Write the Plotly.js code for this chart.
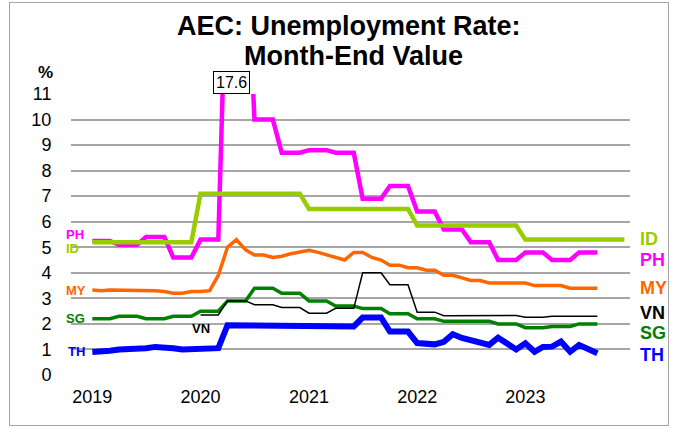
<!DOCTYPE html>
<html>
<head>
<meta charset="utf-8">
<script src="https://cdn.plot.ly/plotly-3.0.1.min.js"></script>
<style>
  html, body { margin: 0; padding: 0; background: #fff; }
  #wrap { position: relative; width: 674px; height: 428px; }
  #chart { position: absolute; left: 0; top: 0; width: 674px; height: 428px; }
  #frame { position: absolute; left: 9px; top: 2px; width: 658px; height: 422px; border: 1px solid #a6a6a6; pointer-events: none; }
</style>
</head>
<body>
<div id="wrap"><div id="chart"></div><div id="frame"></div></div>
<script>
// Month-end dates (Jan 2019 .. Dec 2023)
var months = [
 '2019-01-01','2019-02-01','2019-03-01','2019-04-01','2019-05-01','2019-06-01','2019-07-01','2019-08-01','2019-09-01','2019-10-01','2019-11-01','2019-12-01',
 '2020-01-01','2020-02-01','2020-03-01','2020-04-01','2020-05-01','2020-06-01','2020-07-01','2020-08-01','2020-09-01','2020-10-01','2020-11-01','2020-12-01',
 '2021-01-01','2021-02-01','2021-03-01','2021-04-01','2021-05-01','2021-06-01','2021-07-01','2021-08-01','2021-09-01','2021-10-01','2021-11-01','2021-12-01',
 '2022-01-01','2022-02-01','2022-03-01','2022-04-01','2022-05-01','2022-06-01','2022-07-01','2022-08-01','2022-09-01','2022-10-01','2022-11-01','2022-12-01',
 '2023-01-01','2023-02-01','2023-03-01','2023-04-01','2023-05-01','2023-06-01','2023-07-01','2023-08-01','2023-09-01','2023-10-01','2023-11-01','2023-12-01'
];
var vnMonths = months.slice(12, 57);

var PH = [5.25,5.25,5.25, 5.1,5.1,5.1, 5.4,5.4,5.4, 4.6,4.6,4.6,
          5.3,5.3,5.3, 17.6,17.6,17.6, 10.0,10.0,10.0, 8.7,8.7,8.7,
          8.8,8.8,8.8, 8.7,8.7,8.7, 6.9,6.9,6.9, 7.4,7.4,7.4,
          6.4,6.4,6.4, 5.7,5.7,5.7, 5.2,5.2,5.2, 4.5,4.5,4.5,
          4.8,4.8,4.8, 4.5,4.5,4.5, 4.8,4.8,4.8];
var ID = [5.2,5.2,5.2,5.2,5.2,5.2,5.2,5.2,5.2,5.2,5.2,5.2,
          7.1,7.1,7.1,7.1,7.1,7.1,7.1,7.1,7.1,7.1,7.1,7.1,
          6.5,6.5,6.5,6.5,6.5,6.5,6.5,6.5,6.5,6.5,6.5,6.5,
          5.85,5.85,5.85,5.85,5.85,5.85,5.85,5.85,5.85,5.85,5.85,5.85,
          5.3,5.3,5.3,5.3,5.3,5.3,5.3,5.3,5.3,5.3,5.3,5.3];
var MY = [3.33,3.3,3.33,3.33,3.3,3.3,3.32,3.3,3.27,3.2,3.2,3.27,
          3.27,3.3,3.9,5.0,5.3,4.9,4.7,4.7,4.6,4.65,4.75,4.8,
          4.88,4.8,4.7,4.6,4.5,4.8,4.8,4.6,4.5,4.3,4.3,4.2,
          4.2,4.1,4.1,3.9,3.9,3.8,3.7,3.7,3.6,3.6,3.6,3.6,
          3.6,3.5,3.5,3.5,3.5,3.4,3.4,3.4,3.4];
var SG = [2.2,2.2,2.2, 2.3,2.3,2.3, 2.2,2.2,2.2, 2.3,2.3,2.3,
          2.5,2.5,2.5, 2.9,2.9,2.9, 3.4,3.4,3.4, 3.2,3.2,3.2,
          2.9,2.9,2.9, 2.7,2.7,2.7, 2.6,2.6,2.6, 2.4,2.4,2.4,
          2.2,2.2,2.2, 2.1,2.1,2.1, 2.1,2.1,2.1, 2.0,2.0,2.0,
          1.85,1.85,1.85, 1.9,1.9,1.9, 2.0,2.0,2.0];
var VN = [2.35,2.35,2.35, 2.9,2.9,2.9, 2.75,2.75,2.75, 2.64,2.64,2.64,
          2.42,2.42,2.42, 2.61,2.61,2.61, 4.0,4.0,4.0, 3.53,3.53,3.53,
          2.46,2.46,2.46, 2.32,2.32,2.32, 2.31,2.31,2.31, 2.33,2.33,2.33,
          2.26,2.26,2.26, 2.3,2.3,2.3, 2.3,2.3,2.3];
var TH = [0.9,0.9,0.95,1.0,1.0,1.0,1.05,1.1,1.1,1.05,1.0,1.0,
          1.05,1.05,1.05,1.95,1.95,1.95,1.95,1.95,1.9,1.9,1.9,1.95,
          1.95,1.95,1.95,1.9,1.9,1.9,2.25,2.25,2.25,1.7,1.7,1.7,
          1.25,1.25,1.2,1.3,1.6,1.45,1.35,1.27,1.18,1.46,1.2,1.0,
          1.24,0.91,1.1,1.11,1.31,0.91,1.18,1.02,0.85];

var yearTicks = ['2019-01-01','2020-01-01','2021-01-01','2022-01-01','2023-01-01'];
var yearLabels = ['2019','2020','2021','2022','2023'];

var colors = {PH:'#ff00ff', ID:'#99cc00', MY:'#ff6600', SG:'#008000', VN:'#000000', TH:'#0000ff'};
var FONT = 'Liberation Sans, Arial, Helvetica, sans-serif';

function line(x, y, c, w) {
  return {x: x, y: y, type: 'scatter', mode: 'lines', line: {color: c, width: w}, hoverinfo: 'skip'};
}
var traces = [
  line(months.slice(0, PH.length), PH, colors.PH, 4.5),
  line(months.slice(0, ID.length), ID, colors.ID, 4.5),
  line(months.slice(0, MY.length), MY, colors.MY, 3.5),
  line(months.slice(0, SG.length), SG, colors.SG, 3.5),
  line(vnMonths, VN, colors.VN, 1.5),
  line(months.slice(0, TH.length), TH, colors.TH, 6)
];

function lab(text, c, x, y, xref, xanchor, size) {
  return {text: '<b>' + text + '</b>', x: x, y: y, xref: xref, yref: 'y', xanchor: xanchor, yanchor: 'middle',
          showarrow: false, borderpad: 0, font: {family: FONT, size: size, color: c}};
}
function pyy(px) { return (375 - px) / 25.5; }

var annotations = [
  {text: '<b>AEC: Unemployment Rate:</b>', xref: 'paper', yref: 'paper', x: 0.497, y: (375 - 27) / 280.5,
   xanchor: 'center', yanchor: 'middle', showarrow: false, borderpad: 0, font: {family: FONT, size: 27, color: '#000'}},
  {text: '<b>Month-End Value</b>', xref: 'paper', yref: 'paper', x: 0.505, y: (375 - 57) / 280.5,
   xanchor: 'center', yanchor: 'middle', showarrow: false, borderpad: 0, font: {family: FONT, size: 27, color: '#000'}},
  {text: '<b>%</b>', xref: 'paper', yref: 'paper', x: (45 - 71) / 559, y: (375 - 73) / 280.5,
   xanchor: 'center', yanchor: 'middle', showarrow: false, font: {family: FONT, size: 17, color: '#000'}},
  {text: '17.6', xref: 'x', yref: 'y', x: '2020-04-16', y: 11, xanchor: 'center', yanchor: 'bottom',
   showarrow: false, bgcolor: '#ffffff', bordercolor: '#000000', borderwidth: 1, borderpad: 2,
   font: {family: FONT, size: 16, color: '#000'}},
  // left labels
  lab('PH', colors.PH, -0.0115, pyy(235), 'paper', 'left', 13),
  lab('ID', colors.ID, -0.0115, pyy(249), 'paper', 'left', 13),
  lab('MY', colors.MY, -0.0115, pyy(290.5), 'paper', 'left', 13),
  lab('SG', colors.SG, -0.0115, pyy(318.5), 'paper', 'left', 13),
  lab('TH', colors.TH, -0.008, pyy(352), 'paper', 'left', 13),
  lab('VN', colors.VN, '2020-01-01', pyy(328.5), 'x', 'center', 13),
  // right labels
  lab('ID', colors.ID, 1.016, pyy(239.5), 'paper', 'left', 18),
  lab('PH', colors.PH, 1.016, pyy(260), 'paper', 'left', 18),
  lab('MY', colors.MY, 1.016, pyy(288.5), 'paper', 'left', 18),
  lab('VN', colors.VN, 1.016, pyy(313.5), 'paper', 'left', 18),
  lab('SG', colors.SG, 1.016, pyy(333.5), 'paper', 'left', 18),
  lab('TH', colors.TH, 1.016, pyy(355.5), 'paper', 'left', 18)
];

var layout = {
  width: 674, height: 428,
  margin: {l: 71, r: 44, t: 94, b: 53, pad: 0},
  paper_bgcolor: 'rgba(0,0,0,0)', plot_bgcolor: '#ffffff',
  showlegend: false,
  font: {family: FONT, size: 18, color: '#000'},
  xaxis: {
    type: 'date', range: ['2018-10-21', '2023-12-20'],
    tickmode: 'array', tickvals: yearTicks, ticktext: yearLabels,
    showgrid: false, zeroline: false, showline: false,
    ticks: 'outside', ticklen: 5, tickcolor: 'rgba(0,0,0,0)',
    tickfont: {family: FONT, size: 18, color: '#000'}, fixedrange: true
  },
  yaxis: {
    range: [0, 11], tick0: 0, dtick: 1,
    showgrid: true, gridcolor: '#a6a6a6', gridwidth: 2,
    zeroline: false, showline: false,
    ticks: 'outside', ticklen: 15, tickcolor: 'rgba(0,0,0,0)',
    tickfont: {family: FONT, size: 18, color: '#000'}, fixedrange: true
  },
  annotations: annotations
};

Plotly.newPlot('chart', traces, layout, {displayModeBar: false, staticPlot: true});
</script>
</body>
</html>
